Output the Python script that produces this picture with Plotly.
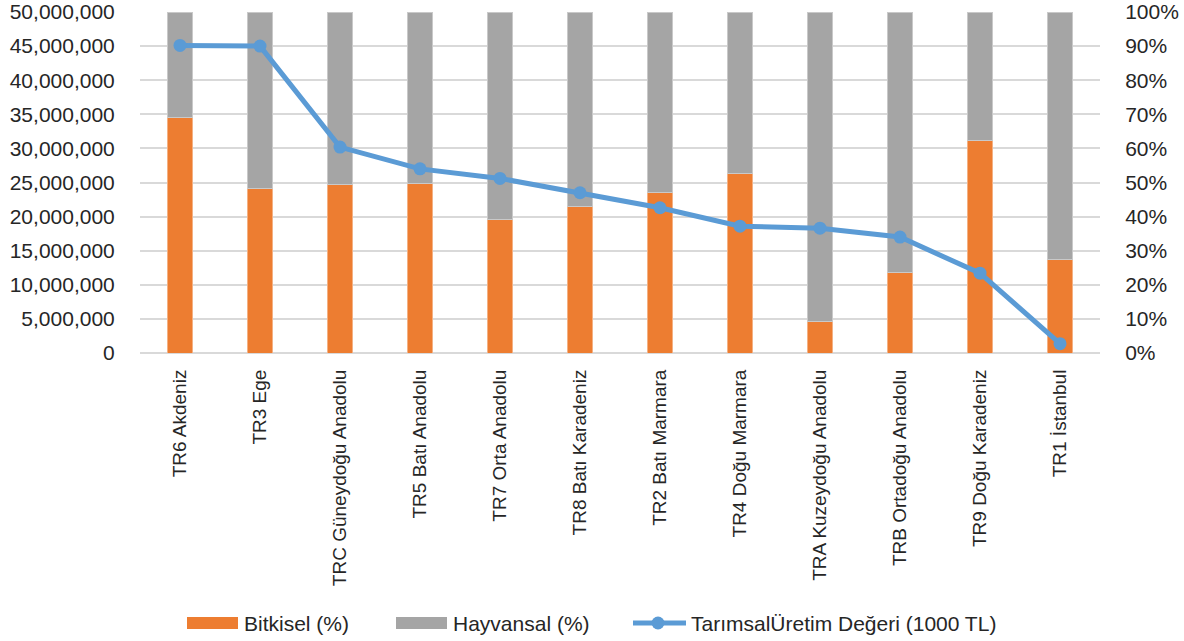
import plotly.graph_objects as go

# Regional agricultural production: crop vs livestock shares and total value
regions = [
    "TR6 Akdeniz", "TR3 Ege", "TRC Güneydoğu Anadolu", "TR5 Batı Anadolu",
    "TR7 Orta Anadolu", "TR8 Batı Karadeniz", "TR2 Batı Marmara",
    "TR4 Doğu Marmara", "TRA Kuzeydoğu Anadolu", "TRB Ortadoğu Anadolu",
    "TR9 Doğu Karadeniz", "TR1 İstanbul",
]
bitkisel = [0.692, 0.483, 0.494, 0.497, 0.391, 0.430, 0.471, 0.525, 0.091, 0.236, 0.623, 0.273]
hayvansal = [round(1 - b, 3) for b in bitkisel]
uretim_degeri = [45100000, 45000000, 30200000, 27000000, 25600000, 23500000,
                 21300000, 18600000, 18300000, 17000000, 11700000, 1360000]

series_names = ["Bitkisel (%)", "Hayvansal (%)", "TarımsalÜretim Değeri (1000 TL)"]
pct_ticks = [i / 10 for i in range(11)]
value_ticks = [i * 5000000 for i in range(11)]

FONT = "Liberation Sans, Arial, sans-serif"
TEXT = "#262626"
ORANGE, GRAY, BLUE = "#ED7D31", "#A5A5A5", "#5B9BD5"

W, H = 1184, 641
M = dict(l=140, r=84, t=12, b=288)
PW, PH = W - M["l"] - M["r"], H - M["t"] - M["b"]


def px(x):
    return (x - M["l"]) / PW


def py(y):
    return (H - M["b"] - y) / PH


fig = go.Figure()
fig.add_trace(go.Bar(
    x=regions, y=bitkisel, name=series_names[0],
    marker=dict(color=ORANGE, line=dict(color="#F4B183", width=1)),
    yaxis="y",
))
fig.add_trace(go.Bar(
    x=regions, y=hayvansal, name=series_names[1],
    marker=dict(color=GRAY, line=dict(color="#C9C9C9", width=1)),
    yaxis="y",
))
fig.add_trace(go.Scatter(
    x=regions, y=uretim_degeri, name=series_names[2],
    mode="lines+markers",
    line=dict(color=BLUE, width=5),
    marker=dict(color=BLUE, size=13),
    yaxis="y2",
))

# Legend row drawn below the category labels
ly = 623
shapes = [
    dict(type="rect", xref="paper", yref="paper", x0=px(187), x1=px(238),
         y0=py(629), y1=py(617), fillcolor=ORANGE, line=dict(width=0)),
    dict(type="rect", xref="paper", yref="paper", x0=px(396), x1=px(447),
         y0=py(629), y1=py(617), fillcolor=GRAY, line=dict(width=0)),
    dict(type="line", xref="paper", yref="paper", x0=px(633), x1=px(686),
         y0=py(ly), y1=py(ly), line=dict(color=BLUE, width=5)),
    dict(type="circle", xref="paper", yref="paper", x0=px(651.5), x1=px(664.5),
         y0=py(ly + 6.5), y1=py(ly - 6.5), fillcolor=BLUE, line=dict(width=0)),
]
annotations = [
    dict(text=name, x=px(x0), y=py(ly), xref="paper", yref="paper",
         xanchor="left", yanchor="middle", showarrow=False,
         font=dict(family=FONT, size=21, color=TEXT))
    for name, x0 in zip(series_names, [242, 451, 689])
]

fig.update_layout(
    width=W, height=H,
    margin=M,
    paper_bgcolor="white", plot_bgcolor="white",
    barmode="stack", bargap=0.69,
    font=dict(family=FONT, size=20, color=TEXT),
    showlegend=False,
    shapes=shapes, annotations=annotations,
    xaxis=dict(
        range=[-0.5, len(regions) - 0.5],
        tickangle=-90, showgrid=False, showline=False, zeroline=False,
        ticks="outside", ticklen=8, tickcolor="rgba(0,0,0,0)",
        tickfont=dict(family=FONT, size=19, color=TEXT), automargin=False,
    ),
    yaxis=dict(
        side="right", range=[0, 1], tickvals=pct_ticks, tickformat=".0%",
        showgrid=True, gridcolor="#D9D9D9", gridwidth=1.5,
        zeroline=True, zerolinecolor="#D9D9D9", zerolinewidth=1.5,
        showline=False, ticks="outside", ticklen=20, tickcolor="rgba(0,0,0,0)",
        tickfont=dict(family=FONT, size=21, color=TEXT), automargin=False,
    ),
    yaxis2=dict(
        side="left", overlaying="y", range=[0, 50000000], tickvals=value_ticks,
        tickformat=",", showgrid=False, zeroline=False, showline=False,
        ticks="outside", ticklen=20, tickcolor="rgba(0,0,0,0)",
        tickfont=dict(family=FONT, size=21, color=TEXT), automargin=False,
    ),
)

fig.write_html("out.html")
